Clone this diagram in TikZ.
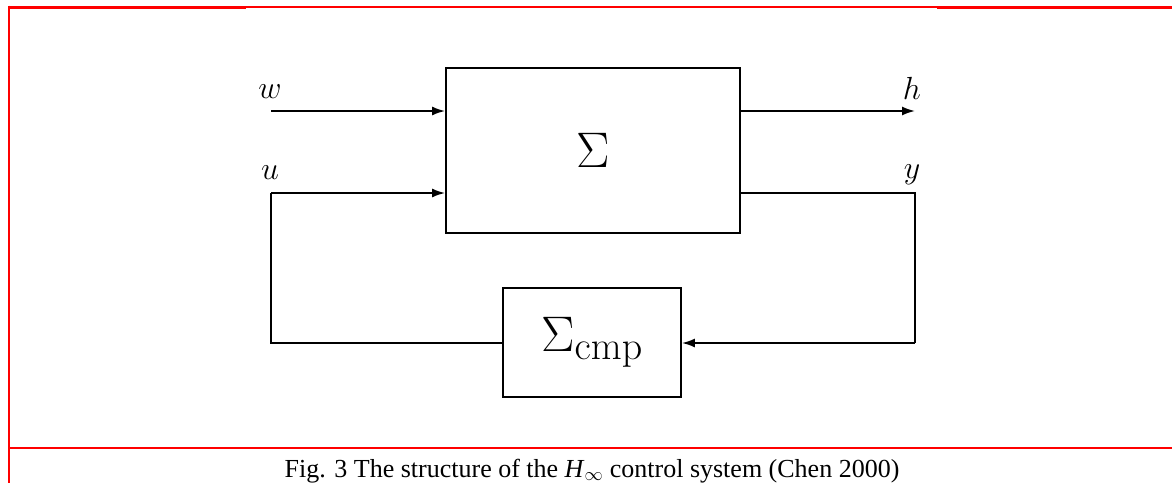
\RequirePackage{fix-cm}
\documentclass[tikz,border=0pt]{standalone}
\usepackage[no-math]{fontspec}
\setmainfont{Liberation Serif}
\usetikzlibrary{arrows.meta}
\newcommand{\cmpsub}{\hbox{\usefont{OT1}{cmr}{m}{n}\fontsize{40}{40}\selectfont cmp}}
\begin{document}
\begin{tikzpicture}[x=1pt,y=-1pt,
  blk/.style={draw=black,line width=1.8pt,minimum width=#1,inner sep=0pt},
  wire/.style={line width=1.8pt},
  arr/.style={line width=1.8pt,-{Latex[length=13pt,width=9pt]}},
  lbl/.style={anchor=base,inner sep=0pt,font=\fontsize{32}{32}\selectfont},
  sig/.style={font=\fontsize{50}{50}\selectfont}]
\useasboundingbox (0,0) rectangle (1172,483);
% red frame
\draw[red,line width=3pt] (8,7) -- (246,7);
\draw[red,line width=1.8pt] (246,7) -- (937,7);
\draw[red,line width=3pt] (937,7) -- (1172,7);
\draw[red,line width=2pt] (9,5.5) -- (9,483);
\draw[red,line width=2pt] (9,448) -- (1172,448);
% blocks
\node[blk=294pt,minimum height=165pt,sig] (S) at (593,150.5) {$\Sigma$};
\node[blk=178pt,minimum height=109pt,sig] (C) at (592,342.5) {$\Sigma_{\cmpsub}$};
% coordinates
\coordinate (win) at (271,111);
\coordinate (uin) at (271,193);
\coordinate (hout) at (915,111);
\coordinate (ycor) at (915,193);
\coordinate (ybot) at (915,343);
\coordinate (ubot) at (271,343);
% connectors
\draw[arr] (win) -- (S.west |- win);
\draw[arr] (S.east |- hout) -- (hout);
\draw[wire] (S.east |- ycor) -- (ycor) -- (ybot);
\draw[arr] (ybot) -- (C.east |- ybot);
\draw[wire] (C.west |- ubot) -- (ubot) -- (uin);
\draw[arr] (uin) -- (S.west |- uin);
% labels
\node[lbl] (lw) at (270,98) {$w$};
\node[lbl] (lu) at (270,179) {$u$};
\node[lbl] (lh) at (912,99) {$h$};
\node[lbl] (ly) at (912,178) {$y$};
% caption
\node[anchor=base,inner sep=0pt,font=\fontsize{26}{26}\selectfont] (cap) at (592,477) {Fig. 3 The structure of the \textit{H}$_{\infty}$ control system (Chen 2000)};
\end{tikzpicture}
\end{document}
